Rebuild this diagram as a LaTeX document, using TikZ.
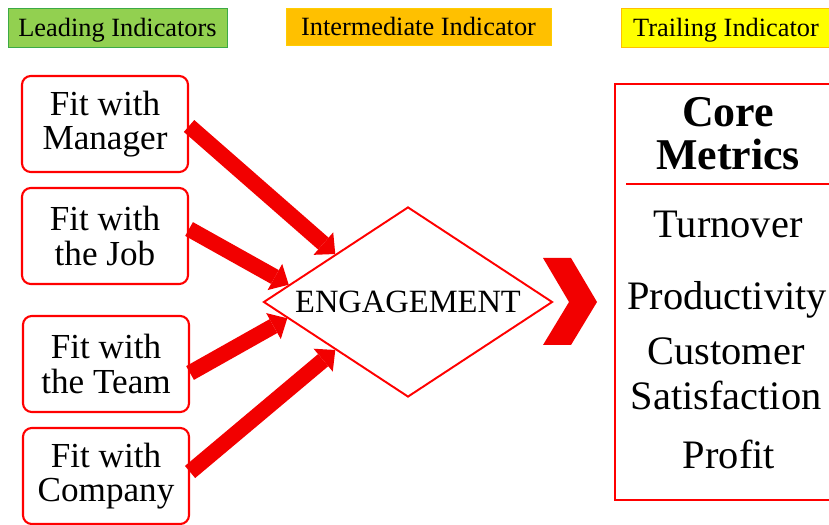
\documentclass[tikz,border=0pt]{standalone}
\usepackage{fontspec}
\setmainfont{Liberation Serif}
\usetikzlibrary{arrows.meta,calc,shapes.geometric}

\definecolor{leadgreen}{RGB}{146,208,80}
\definecolor{leadedge}{RGB}{60,170,70}
\definecolor{midorange}{RGB}{255,192,0}
\definecolor{trailyellow}{RGB}{255,255,0}
\definecolor{fatred}{RGB}{242,0,0}

\begin{document}
\begin{tikzpicture}[
  tag/.style={draw, thin, minimum height=0.78cm, inner sep=0pt,
              text height=10pt, text depth=0pt,
              font=\fontsize{15}{18}\selectfont},
  fitbox/.style={draw=red, line width=1.2pt, rounded corners=5pt, fill=white,
                 align=center, minimum width=3.32cm, minimum height=1.92cm,
                 inner sep=0pt, font=\fontsize{20}{19.5}\selectfont},
  metric/.style={font=\fontsize{23}{25.5}\selectfont, align=center, inner sep=0pt},
  fat/.style={fatred, line width=9pt,
              -{Triangle[length=9pt,width=17pt,line width=0pt]}},
]
\useasboundingbox (0,0) rectangle (16.58,10.48);

% ---- column headings ------------------------------------------------------
\node[tag, fill=leadgreen, draw=leadedge, minimum width=4.38cm] (lead) at (2.35,9.93) {Leading Indicators};
\node[tag, fill=midorange, draw=midorange!80!yellow, minimum width=5.30cm, minimum height=0.74cm] (mid) at (8.37,9.95) {Intermediate Indicator};
\node[tag, fill=trailyellow, draw=midorange, minimum width=4.20cm] (trail) at (14.52,9.93) {Trailing Indicator};

% ---- the four fits --------------------------------------------------------
\node[fitbox] (man)  at (2.10,8.00) {Fit with\\Manager};
\node[fitbox] (job)  at (2.10,5.76) {Fit with\\the Job};
\node[fitbox] (team) at (2.12,3.20) {Fit with\\the Team};
\node[fitbox] (comp) at (2.12,0.96) {Fit with\\Company};

% ---- engagement -----------------------------------------------------------
\node[diamond, draw=red, line width=1.1pt, aspect=1.52, inner sep=0pt,
      minimum width=5.78cm, minimum height=3.8cm,
      font=\fontsize{18.5}{22}\selectfont] (eng) at (8.16,4.44) {ENGAGEMENT};

\draw[fat] ([yshift=-0.04cm]man.east)  -- ($(eng.west)!0.5!(eng.north)$);
\draw[fat] ([yshift=0.14cm]job.east)   -- ($(eng.west)!0.18!(eng.north)$);
\draw[fat] ([yshift=-0.18cm]team.east) -- ($(eng.west)!0.17!(eng.south)$);
\draw[fat] ([yshift=0.08cm]comp.east)  -- ($(eng.west)!0.5!(eng.south)$);

% chevron into the metrics column
\fill[fatred] (10.86,5.32) -- (11.42,5.32) -- (11.94,4.44) -- (11.42,3.58)
  -- (10.86,3.58) -- (11.38,4.44) -- cycle;

% ---- core metrics ---------------------------------------------------------
\node[draw=red, line width=1.2pt, minimum width=4.6cm, minimum height=8.32cm] (core) at (14.6,4.64) {};
\node[metric, font=\fontsize{25}{24.4}\selectfont\bfseries] (head) at (14.56,7.81) {Core\\Metrics};
\coordinate (sep) at (12.52,6.80);
\draw[red, line width=1.2pt] (sep) -- (sep -| core.east);

\node[metric, anchor=base] (turn) at (14.56,5.72) {Turnover};
\node[metric, anchor=base] (prod) at (14.54,4.28) {Productivity};
\node[metric] (cust) at (14.52,3.01) {Customer\\Satisfaction};
\node[metric, anchor=base] (prof) at (14.58,1.12) {Profit};

\end{tikzpicture}
\end{document}
